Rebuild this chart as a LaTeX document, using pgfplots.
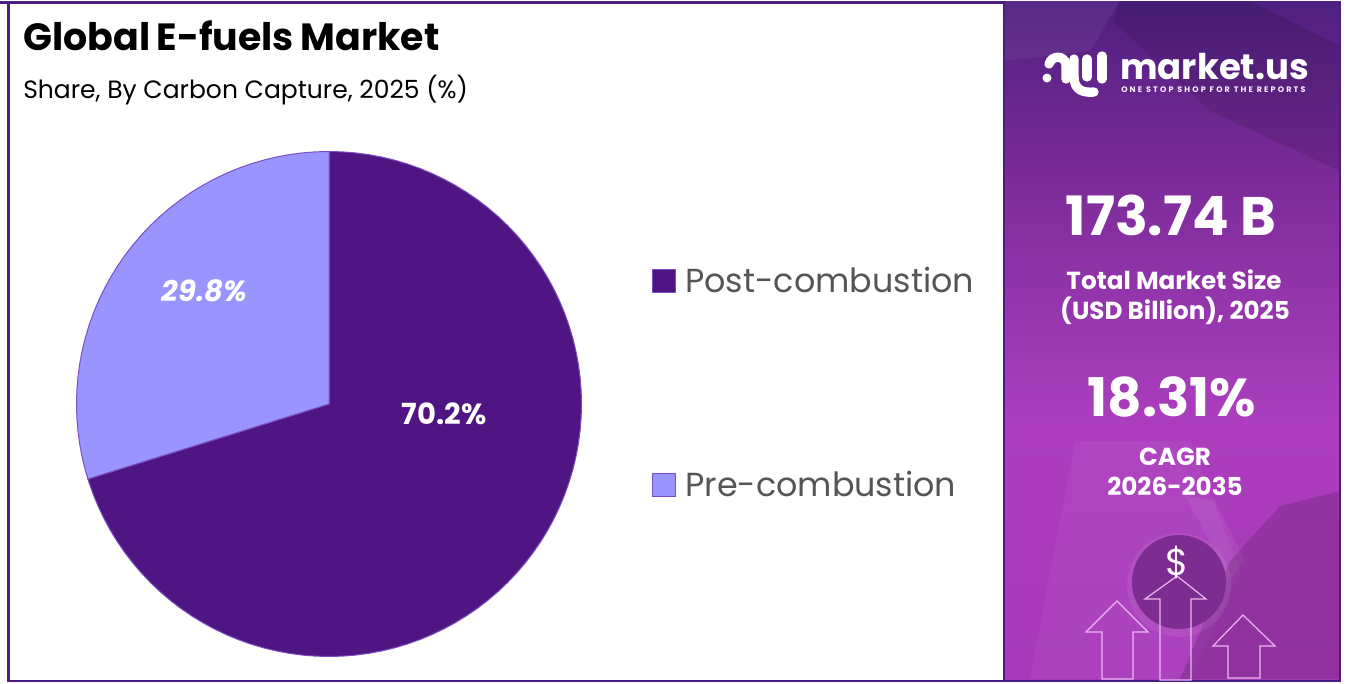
\documentclass[border=0pt]{standalone}
\usepackage{fontspec}
\setmainfont{Poppins}
\usepackage{pgfplots}
\pgfplotsset{compat=1.18}
\usepgfplotslibrary{polar}
\definecolor{frame}{HTML}{4A1D85}
\definecolor{post}{HTML}{4F1582}
\definecolor{pre}{HTML}{9A94FF}
\definecolor{edgec}{HTML}{7B4FC4}
\definecolor{legtxt}{HTML}{555555}
\definecolor{arrowc}{HTML}{EDB6F2}
\definecolor{coin}{HTML}{7D2C92}
\definecolor{pa}{HTML}{A83ABA}
\definecolor{pb}{HTML}{AC3EBE}
\definecolor{pc}{HTML}{9435AC}
\definecolor{pd}{HTML}{7A2A98}
\definecolor{pe}{HTML}{4E2080}
\pgfdeclareverticalshading{panel}{100bp}{
 color(0bp)=(pa);
 color(25bp)=(pa);
 color(44bp)=(pb);
 color(53bp)=(pc);
 color(62.5bp)=(pd);
 color(75bp)=(pe);
 color(100bp)=(pe)}
\newcommand{\fs}[1]{\fontsize{#1}{#1}\selectfont}
\begin{document}
\begin{tikzpicture}
\begin{axis}[name=bg,at={(0,0)},anchor=south west,width=1009.5pt,height=510.75pt,scale only axis,
 xmin=0,xmax=1346,ymin=0,ymax=681,y dir=reverse,hide axis,clip=false]
\fill[white] (0,0) rectangle (1346,681);
% frame
\fill[frame] (0,0) rectangle (1340,2.5);
\fill[frame] (7,0) rectangle (9.5,681);
\fill[frame] (7,678.5) rectangle (1340,681);
% panel
\shade[shading=panel] (1004,0) rectangle (1340,678.5);
\fill[black,opacity=.10] (1113,20) -- (1120,0) -- (1250,0) -- (1340,45) -- (1340,170) -- (1210,110) -- cycle;
\fill[white,opacity=.05] (1004,0) -- (1120,0) -- (1090,50) -- (1004,60) -- cycle;
\fill[white,opacity=.04] (1030,678) -- (1075,440) -- (1190,440) -- (1240,570) -- (1190,678) -- cycle;
\fill[white,opacity=.06] (1185,495) -- (1215,500) -- (1245,560) -- (1230,578) -- cycle;
\fill[black,opacity=.14] (1180,678) -- (1230,560) -- (1280,505) -- (1340,490) -- (1340,678) -- cycle;
\fill[white,opacity=.07] (1179,584) circle[radius=52];
\fill[coin] (1179,581) circle[radius=47];
\draw[frame,line width=1.5pt] (1004,0) -- (1004,681);
\draw[frame,line width=1pt] (1340,0) -- (1340,681);
% arrows
\draw[arrowc,line width=.9pt] (1102,678) -- (1102,631) -- (1086,631) -- (1117,600) -- (1148,631) -- (1133,631) -- (1133,678) -- cycle;
\draw[arrowc,line width=.9pt] (1160,679) -- (1160,598) -- (1145,598) -- (1177,575) -- (1206,598) -- (1191,598) -- (1191,679) -- cycle;
\draw[arrowc,line width=.9pt] (1228,677) -- (1228,645) -- (1213,645) -- (1243,614) -- (1275,645) -- (1260,645) -- (1260,677) -- cycle;
\node[text=white!90!arrowc,font=\fs{28}] at (1177,561) {\$};
% logo
\fill[white] (1047,77) circle[radius=4.5];
\draw[white,line width=7pt,line cap=round] (1049,63) .. controls (1052,54) and (1064,54) .. (1066,63) -- (1066,78);
\draw[white,line width=7pt,line cap=round] (1074,58) -- (1074,76) .. controls (1074,90) and (1085,92) .. (1094,91);
\draw[white,line width=7pt,line cap=round] (1087,58) -- (1087,76);
\draw[white,line width=7pt,line cap=round] (1102,55) -- (1102,78);
\node[white,font=\fs{26.6}\bfseries,anchor=base west,inner sep=0] at (1120,78) {market.us};
\node[white!90!pre,font=\fs{6}\bfseries\addfontfeatures{LetterSpace=27},anchor=base west,inner sep=0] at (1121,91) {ONE STOP SHOP FOR THE REPORTS};
% panel text
\node[white,font=\fs{40.7}\bfseries] at (1171,214) {173.74 B};
\node[white,font=\fs{18.5}\bfseries] at (1174,279) {Total Market Size};
\node[white,font=\fs{18.5}\bfseries] at (1175,309.5) {(USD Billion), 2025};
\node[white,font=\fs{40}\bfseries] at (1172,396) {18.31\%};
\node[white,font=\fs{18.5}\bfseries] at (1175,455.5) {CAGR};
\node[white,font=\fs{18.5}\bfseries] at (1175,485) {2026-2035};
% titles
\node[black,font=\fs{28.45}\bfseries,anchor=base west,inner sep=0] at (23,49) {\spaceskip=.17em Global E-fuels Market};
\node[black,font=\fs{18.77},anchor=base west,inner sep=0] at (23,97) {Share, By Carbon Capture, 2025 (\%)};
\end{axis}
\begin{axis}[name=pie,at={(57pt,18.75pt)},anchor=south west,width=379.5pt,height=379.5pt,scale only axis,
 xmin=-253,xmax=253,ymin=-253,ymax=253,hide axis,clip=false,
 legend style={at={(axis cs:322.4,139.4)},anchor=north west,draw=none,fill=none,inner sep=0pt,
  font=\fs{25},text=legtxt,row sep=128.5pt,/tikz/every even column/.style={column sep=2pt}},
 legend cell align=left]
\addplot[data cs=polar,fill=post,draw=edgec,line width=.75pt,
 legend image code/.code={\draw[fill=post,draw=edgec,line width=.75pt] (0pt,-8.6pt) rectangle (17.2pt,8.6pt);\path (22.5pt,0pt);}]
 coordinates {(90,0) (90,252.5) (87,252.5) (84,252.5) (81,252.5) (78,252.5) (75,252.5) (72,252.5) (69,252.5) (66,252.5) (63,252.5) (60,252.5) (57,252.5) (54,252.5) (51,252.5) (48,252.5) (45,252.5) (42,252.5) (39,252.5) (36,252.5) (33,252.5) (30,252.5) (27,252.5) (24,252.5) (21,252.5) (18,252.5) (15,252.5) (12,252.5) (9,252.5) (6,252.5) (3,252.5) (0,252.5) (-3,252.5) (-6,252.5) (-9,252.5) (-12,252.5) (-15,252.5) (-18,252.5) (-21,252.5) (-24,252.5) (-27,252.5) (-30,252.5) (-33,252.5) (-36,252.5) (-39,252.5) (-42,252.5) (-45,252.5) (-48,252.5) (-51,252.5) (-54,252.5) (-57,252.5) (-60,252.5) (-63,252.5) (-66,252.5) (-69,252.5) (-72,252.5) (-75,252.5) (-78,252.5) (-81,252.5) (-84,252.5) (-87,252.5) (-90,252.5) (-93,252.5) (-96,252.5) (-99,252.5) (-102,252.5) (-105,252.5) (-108,252.5) (-111,252.5) (-114,252.5) (-117,252.5) (-120,252.5) (-123,252.5) (-126,252.5) (-129,252.5) (-132,252.5) (-135,252.5) (-138,252.5) (-141,252.5) (-144,252.5) (-147,252.5) (-150,252.5) (-153,252.5) (-156,252.5) (-159,252.5) (-162,252.5) (-162.72,252.5) (-162.72,0)};
\addlegendentry{Post-combustion}
\addplot[data cs=polar,fill=pre,draw=edgec,line width=.75pt,
 legend image code/.code={\draw[fill=pre,draw=edgec,line width=.75pt] (0pt,-8.6pt) rectangle (17.2pt,8.6pt);\path (22.5pt,0pt);}]
 coordinates {(-162.72,0) (-162.72,252.5) (-165,252.5) (-168,252.5) (-171,252.5) (-174,252.5) (-177,252.5) (-180,252.5) (-183,252.5) (-186,252.5) (-189,252.5) (-192,252.5) (-195,252.5) (-198,252.5) (-201,252.5) (-204,252.5) (-207,252.5) (-210,252.5) (-213,252.5) (-216,252.5) (-219,252.5) (-222,252.5) (-225,252.5) (-228,252.5) (-231,252.5) (-234,252.5) (-237,252.5) (-240,252.5) (-243,252.5) (-246,252.5) (-249,252.5) (-252,252.5) (-255,252.5) (-258,252.5) (-261,252.5) (-264,252.5) (-267,252.5) (-270,252.5) (-270,0)};
\addlegendentry{Pre-combustion}
\node[white,font=\fs{21.8}\bfseries] at (axis cs:115,-10) {70.2\%};
\node[white,font=\fs{21.8}\bfseries\itshape] at (axis cs:-124.5,113.5) {29.8\%};
\end{axis}
\end{tikzpicture}
\end{document}
